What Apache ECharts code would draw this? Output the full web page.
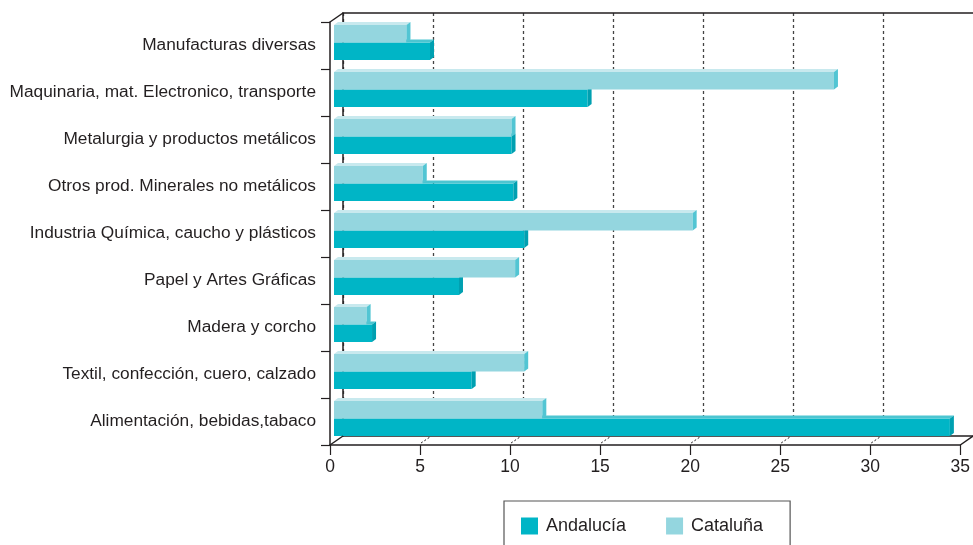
<!DOCTYPE html>
<html>
<head>
<meta charset="utf-8">
<script src="https://cdn.jsdelivr.net/npm/echarts@6/dist/echarts.min.js"></script>
<style>
  html, body { margin: 0; padding: 0; background: #fff; }
  #chart { width: 973px; height: 545px; }
</style>
</head>
<body>
<div id="chart"></div>
<script>
// datos del gráfico
const categories = [
  'Manufacturas diversas',
  'Maquinaria, mat. Electronico, transporte',
  'Metalurgia y productos metálicos',
  'Otros prod. Minerales no metálicos',
  'Industria Química, caucho y plásticos',
  'Papel y Artes Gráficas',
  'Madera y corcho',
  'Textil, confección, cuero, calzado',
  'Alimentación, bebidas,tabaco'
];
const andalucia = [5.3, 14.0, 9.8, 9.9, 10.5, 6.9, 2.1, 7.6, 34.0];
const cataluna = [4.0, 27.6, 9.8, 4.9, 19.8, 10.0, 1.8, 10.5, 11.5];
const xTicks = [0, 5, 10, 15, 20, 25, 30, 35];

const ink = '#231f20';
const font = 'Liberation Sans, Arial, Helvetica, sans-serif';

// colores: frente, tapa, lateral
const colAnd = { front: '#00b5c6', top: '#4cc5d1', side: '#00a0b1' };
const colCat = { front: '#94d6df', top: '#c8e9ee', side: '#52c5d3' };

const BAR_H = 17.5, DX = 4, DY = 3;

// barra con efecto 3D (offset: -1 arriba, 0 abajo dentro de la categoría)
function make3dBar(col, offset) {
  return function (params, api) {
    const v = api.value(0);
    const i = api.value(1);
    const p0 = api.coord([0, i]);
    const p1 = api.coord([v, i]);
    const y = p0[1] + offset * BAR_H;
    const x0 = p0[0], x1 = p1[0];
    return {
      type: 'group',
      children: [
        { type: 'rect', shape: { x: x0, y: y, width: x1 - x0, height: BAR_H },
          style: { fill: col.front } },
        { type: 'polygon', shape: { points: [[x0, y], [x0 + DX, y - DY], [x1 + DX, y - DY], [x1, y]] },
          style: { fill: col.top } },
        { type: 'polygon', shape: { points: [[x1, y], [x1 + DX, y - DY], [x1 + DX, y + BAR_H - DY], [x1, y + BAR_H]] },
          style: { fill: col.side } }
      ]
    };
  };
}

// líneas de la pared del fondo: la última (35) no se ve
const gridColors = xTicks.map((t, i) => i === xTicks.length - 1 ? 'rgba(0,0,0,0)' : '#444');

const myChart = echarts.init(document.getElementById('chart'));

const option = {
  animation: false,
  backgroundColor: '#fff',
  textStyle: { fontFamily: font, color: ink },
  grid: [
    { left: 330, top: 22, width: 634, height: 423 },   // ejes frontales
    { left: 343, top: 13, width: 637, height: 423 },   // pared del fondo
    { left: 334, top: 19, width: 634, height: 423 }    // plano de las barras
  ],
  xAxis: [
    {
      gridIndex: 0, type: 'value', min: 0, max: 35, interval: 5, position: 'bottom',
      axisLine: { show: true, lineStyle: { color: ink, width: 1.5 } },
      axisTick: { show: true, length: 10, lineStyle: { color: ink, width: 1.2 } },
      axisLabel: { color: ink, fontSize: 17.5, margin: 13, fontFamily: font },
      splitLine: { show: false }
    },
    {
      gridIndex: 1, type: 'value', min: 0, max: 35, interval: 5, position: 'top',
      axisLine: { show: true, lineStyle: { color: ink, width: 1.5 } },
      axisTick: { show: false }, axisLabel: { show: false },
      splitLine: { show: true, lineStyle: { color: gridColors, width: 1.3, type: [3, 3] } }
    },
    {
      gridIndex: 1, type: 'value', min: 0, max: 35, position: 'bottom',
      axisLine: { show: true, lineStyle: { color: ink, width: 1.5 } },
      axisTick: { show: false }, axisLabel: { show: false }, splitLine: { show: false }
    },
    {
      gridIndex: 2, type: 'value', min: 0, max: 35, show: false
    }
  ],
  yAxis: [
    {
      gridIndex: 0, type: 'category', data: categories, inverse: true,
      axisLine: { show: true, lineStyle: { color: ink, width: 1.5 } },
      axisTick: { show: true, length: 9, lineStyle: { color: ink, width: 1.2 } },
      axisLabel: { color: ink, fontSize: 17.3, margin: 14, fontFamily: font },
      splitLine: { show: false }
    },
    {
      gridIndex: 1, type: 'category', data: categories, inverse: true,
      axisLine: { show: true, lineStyle: { color: ink, width: 1.5 } },
      axisTick: { show: false }, axisLabel: { show: false }, splitLine: { show: false }
    },
    {
      gridIndex: 2, type: 'category', data: categories, inverse: true, show: false
    }
  ],
  legend: {
    left: 504, top: 501,
    data: ['Andalucía', 'Cataluña'],
    icon: 'rect',
    itemWidth: 17, itemHeight: 17, itemGap: 40,
    padding: [16, 27, 22, 17],
    borderColor: '#555', borderWidth: 1.2,
    textStyle: { color: ink, fontSize: 18, fontFamily: font, padding: [0, 0, 0, 3] }
  },
  series: [
    {
      name: 'Andalucía', type: 'custom', xAxisIndex: 3, yAxisIndex: 2,
      itemStyle: { color: colAnd.front },
      encode: { x: 0, y: 1 },
      renderItem: make3dBar(colAnd, 0),
      data: andalucia.map((v, i) => [v, i]),
      z: 3
    },
    {
      name: 'Cataluña', type: 'custom', xAxisIndex: 3, yAxisIndex: 2,
      itemStyle: { color: colCat.front },
      encode: { x: 0, y: 1 },
      renderItem: make3dBar(colCat, -1),
      data: cataluna.map((v, i) => [v, i]),
      z: 4
    }
  ]
};

myChart.setOption(option);

// diagonales de perspectiva entre ejes frontales y pared del fondo
const yFront = 445, yBack = 436;
const diag = [];
xTicks.forEach(function (t) {
  const xf = myChart.convertToPixel({ xAxisIndex: 0 }, t);
  const xb = myChart.convertToPixel({ xAxisIndex: 1 }, t);
  const solid = (t === 0 || t === xTicks[xTicks.length - 1]);
  diag.push({
    type: 'line', z: 10,
    shape: solid
      ? { x1: xf, y1: yFront, x2: xb, y2: yBack }
      : { x1: xf + 1, y1: yFront - 2, x2: xb - 3, y2: yBack + 1 },
    style: { stroke: ink, lineWidth: solid ? 1.5 : 1, lineDash: solid ? null : [2, 2] }
  });
});
diag.push({
  type: 'line', z: 10,
  shape: { x1: 330, y1: 22, x2: 343, y2: 13 },
  style: { stroke: ink, lineWidth: 1.5 }
});
myChart.setOption({ graphic: diag });
</script>
</body>
</html>
